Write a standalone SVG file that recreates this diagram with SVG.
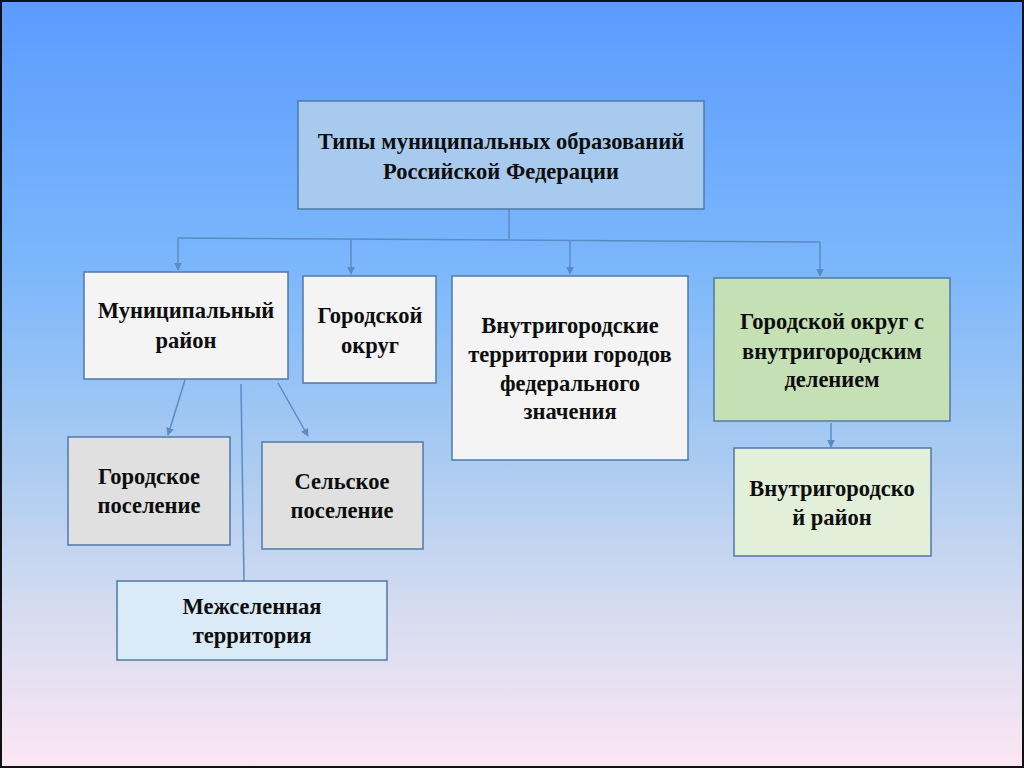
<svg xmlns="http://www.w3.org/2000/svg" width="1024" height="768" viewBox="0 0 1024 768">
<defs>
<linearGradient id="bg" x1="0" y1="0" x2="0" y2="1">
<stop offset="0" stop-color="#5b9bff"/>
<stop offset="0.35" stop-color="#7cb7fb"/>
<stop offset="0.6" stop-color="#aacbf1"/>
<stop offset="0.8" stop-color="#d6dcf0"/>
<stop offset="1" stop-color="#fce6f4"/>
</linearGradient>
<marker id="ah" viewBox="0 0 10 10" refX="9" refY="5" markerWidth="8" markerHeight="8" orient="auto" markerUnits="userSpaceOnUse">
<path d="M0,0 L10,5 L0,10 z" fill="#5a8cc4"/>
</marker>
<style>
.box{stroke:#4f79a6;stroke-width:1.5}
.t{font-family:"Liberation Serif","Times New Roman",serif;font-weight:bold;font-size:22.5px;fill:#0d0d0d;text-anchor:middle}
.c{stroke:#5a8cc4;stroke-width:1.5;fill:none}
</style>
</defs>
<rect x="0" y="0" width="1024" height="768" fill="url(#bg)"/>
<rect x="1" y="1" width="1022" height="766" fill="none" stroke="#111" stroke-width="2"/>
<g id="connectors">
<line class="c" x1="509" y1="209" x2="509" y2="239"/>
<line class="c" x1="178" y1="238" x2="820" y2="242"/>
<line class="c" x1="178" y1="238" x2="178" y2="270" marker-end="url(#ah)"/>
<line class="c" x1="351" y1="239" x2="351" y2="274" marker-end="url(#ah)"/>
<line class="c" x1="570" y1="240" x2="570" y2="274" marker-end="url(#ah)"/>
<line class="c" x1="820" y1="242" x2="820" y2="276" marker-end="url(#ah)"/>
<line class="c" x1="185" y1="380" x2="168" y2="435" marker-end="url(#ah)"/>
<line class="c" x1="278" y1="383" x2="308" y2="436" marker-end="url(#ah)"/>
<line class="c" x1="241" y1="384" x2="244" y2="581"/>
<line class="c" x1="831" y1="423" x2="831" y2="447" marker-end="url(#ah)"/>
</g>
<g id="root">
<rect class="box" x="298" y="101" width="406" height="108" fill="#a8caee"/>
<text class="t" x="501" y="149">Типы муниципальных образований</text>
<text class="t" x="501" y="179">Российской Федерации</text>
</g>
<g id="mun-district">
<rect class="box" x="84" y="272" width="204" height="107" fill="#f4f4f4"/>
<text class="t" x="186" y="318">Муниципальный</text>
<text class="t" x="186" y="348">район</text>
</g>
<g id="city-okrug">
<rect class="box" x="303" y="276" width="133" height="107" fill="#f4f4f4"/>
<text class="t" x="370" y="323">Городской</text>
<text class="t" x="370" y="353">округ</text>
</g>
<g id="intracity-fed">
<rect class="box" x="452" y="276" width="236" height="184" fill="#f4f4f4"/>
<text class="t" x="570" y="333">Внутригородские</text>
<text class="t" x="570" y="362">территории городов</text>
<text class="t" x="570" y="391">федерального</text>
<text class="t" x="570" y="419">значения</text>
</g>
<g id="city-okrug-div">
<rect class="box" x="714" y="278" width="236" height="143" fill="#c5e0b4"/>
<text class="t" x="832" y="329">Городской округ с</text>
<text class="t" x="832" y="359">внутригородским</text>
<text class="t" x="832" y="387">делением</text>
</g>
<g id="intracity-district">
<rect class="box" x="734" y="448" width="197" height="108" fill="#e2efd9"/>
<text class="t" x="832" y="496">Внутригородско</text>
<text class="t" x="832" y="525">й район</text>
</g>
<g id="urban-settlement">
<rect class="box" x="68" y="437" width="162" height="108" fill="#e0e0e0"/>
<text class="t" x="149" y="484">Городское</text>
<text class="t" x="149" y="513">поселение</text>
</g>
<g id="rural-settlement">
<rect class="box" x="262" y="442" width="161" height="107" fill="#e0e0e0"/>
<text class="t" x="342" y="489">Сельское</text>
<text class="t" x="342" y="518">поселение</text>
</g>
<g id="inter-settlement">
<rect class="box" x="117" y="581" width="270" height="79" fill="#dbeaf7"/>
<text class="t" x="252" y="614">Межселенная</text>
<text class="t" x="252" y="643">территория</text>
</g>
</svg>
